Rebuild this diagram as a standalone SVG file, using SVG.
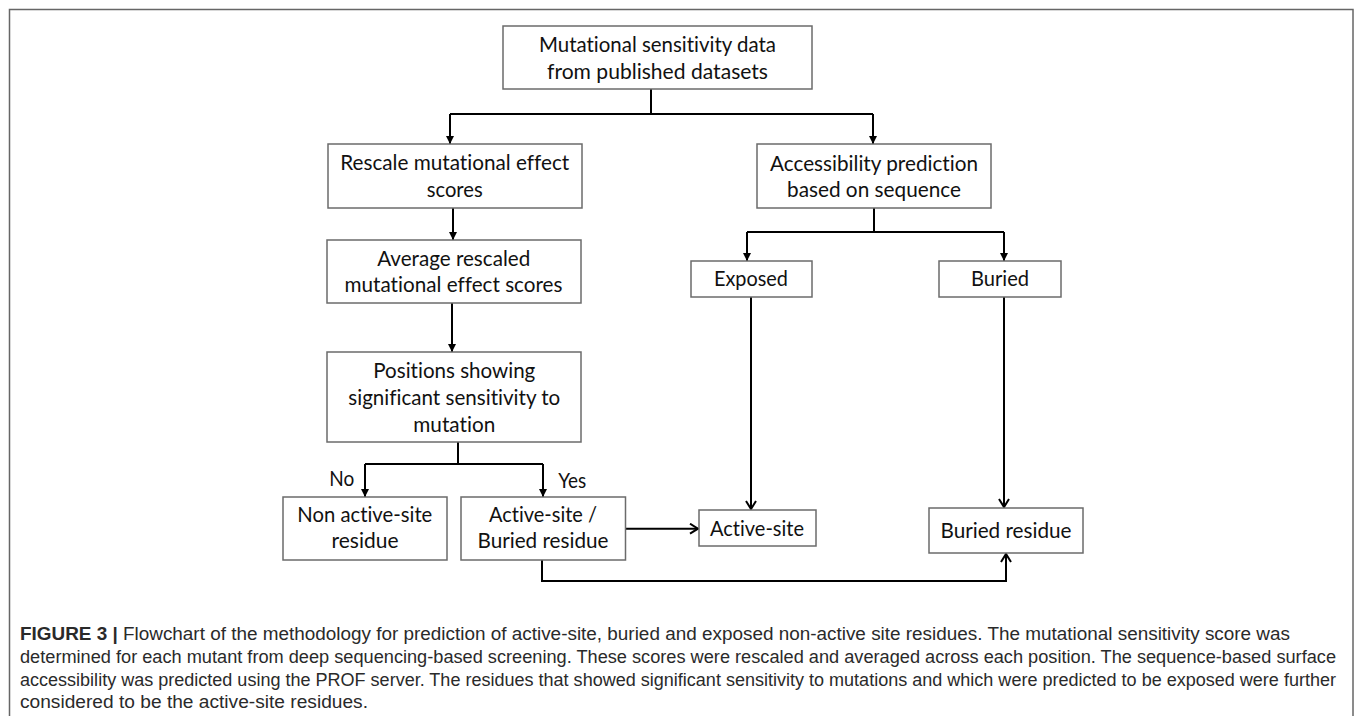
<svg xmlns="http://www.w3.org/2000/svg" width="1355" height="716" viewBox="0 0 1355 716">
<style>
.box{fill:#fff;stroke:#6b6b6b;stroke-width:1.5}
.t{font-family:Lato,"Liberation Sans",sans-serif;font-size:22px;fill:#111;text-anchor:middle;font-variant-ligatures:none}
.l{font-family:Lato,"Liberation Sans",sans-serif;font-size:22px;fill:#111;font-variant-ligatures:none}
.c{fill:none;stroke:#000;stroke-width:2}
.cap{font-family:"Liberation Sans",Arial,sans-serif;font-size:17.5px;fill:#2a2a2a}
</style>
<defs>
<marker id="tri" markerUnits="userSpaceOnUse" markerWidth="9" markerHeight="9" refX="8" refY="4" orient="auto">
<path d="M0,0 L8,4 L0,8 z" fill="#000"/>
</marker>
<marker id="open" markerUnits="userSpaceOnUse" markerWidth="12" markerHeight="14" refX="9" refY="6" orient="auto">
<path d="M1,1 L9,6 L1,11" fill="none" stroke="#000" stroke-width="2"/>
</marker>
</defs>
<rect x="0" y="0" width="1355" height="716" fill="#fff"/>
<rect x="9.5" y="9.5" width="1343.5" height="720" fill="none" stroke="#666" stroke-width="1.5"/>

<g id="connectors">
<path class="c" d="M651,89 V114"/>
<path class="c" d="M450,114 H873"/>
<path class="c" d="M450,114 V144" marker-end="url(#tri)"/>
<path class="c" d="M873,114 V144" marker-end="url(#tri)"/>
<path class="c" d="M453,208 V240" marker-end="url(#tri)"/>
<path class="c" d="M452,303 V352" marker-end="url(#tri)"/>
<path class="c" d="M458,442 V464"/>
<path class="c" d="M365,464 H543"/>
<path class="c" d="M365,464 V497" marker-end="url(#tri)"/>
<path class="c" d="M543,464 V497" marker-end="url(#tri)"/>
<path class="c" d="M874,208 V232"/>
<path class="c" d="M747,232 H1004"/>
<path class="c" d="M747,232 V261" marker-end="url(#tri)"/>
<path class="c" d="M1004,232 V261" marker-end="url(#tri)"/>
<path class="c" d="M751,297 V509" marker-end="url(#open)"/>
<path class="c" d="M1004,297 V507" marker-end="url(#open)"/>
<path class="c" d="M626,528.7 H698" marker-end="url(#open)"/>
<path class="c" d="M542,560 V581 H1006 V554" marker-end="url(#open)"/>
</g>

<g id="n-source">
<rect class="box" x="503" y="26" width="309" height="63"/>
<text class="t" x="657.5" y="52.3" textLength="237" lengthAdjust="spacingAndGlyphs">Mutational sensitivity data</text>
<text class="t" x="657.5" y="79" textLength="221" lengthAdjust="spacingAndGlyphs">from published datasets</text>
</g>
<g id="n-rescale">
<rect class="box" x="328" y="144" width="254" height="64"/>
<text class="t" x="454.7" y="170" textLength="229" lengthAdjust="spacingAndGlyphs">Rescale mutational effect</text>
<text class="t" x="454.7" y="196.7" textLength="56" lengthAdjust="spacingAndGlyphs">scores</text>
</g>
<g id="n-average">
<rect class="box" x="327" y="240" width="254" height="63"/>
<text class="t" x="453.7" y="265.7" textLength="153" lengthAdjust="spacingAndGlyphs">Average rescaled</text>
<text class="t" x="453.5" y="292.3" textLength="218" lengthAdjust="spacingAndGlyphs">mutational effect scores</text>
</g>
<g id="n-positions">
<rect class="box" x="327" y="352" width="254" height="90"/>
<text class="t" x="454.3" y="378.3" textLength="162" lengthAdjust="spacingAndGlyphs">Positions showing</text>
<text class="t" x="454.3" y="405" textLength="212" lengthAdjust="spacingAndGlyphs">significant sensitivity to</text>
<text class="t" x="454.3" y="431.7" textLength="82" lengthAdjust="spacingAndGlyphs">mutation</text>
</g>
<g id="lbl-no"><text class="l" x="329.3" y="485.7" textLength="25" lengthAdjust="spacingAndGlyphs">No</text></g>
<g id="lbl-yes"><text class="l" x="558.3" y="487.7" textLength="28" lengthAdjust="spacingAndGlyphs">Yes</text></g>
<g id="n-nonactive">
<rect class="box" x="283" y="497" width="164" height="63"/>
<text class="t" x="364.8" y="521.7" textLength="135" lengthAdjust="spacingAndGlyphs">Non active-site</text>
<text class="t" x="365" y="548.3" textLength="67" lengthAdjust="spacingAndGlyphs">residue</text>
</g>
<g id="n-activeburied">
<rect class="box" x="461" y="497" width="164.5" height="63"/>
<text class="t" x="543" y="521.7" textLength="108" lengthAdjust="spacingAndGlyphs">Active-site /</text>
<text class="t" x="543" y="548.3" textLength="131" lengthAdjust="spacingAndGlyphs">Buried residue</text>
</g>
<g id="n-access">
<rect class="box" x="757" y="144" width="234" height="64"/>
<text class="t" x="874" y="170.7" textLength="208" lengthAdjust="spacingAndGlyphs">Accessibility prediction</text>
<text class="t" x="874" y="196.7" textLength="174" lengthAdjust="spacingAndGlyphs">based on sequence</text>
</g>
<g id="n-exposed">
<rect class="box" x="691" y="261" width="121" height="36"/>
<text class="t" x="751" y="286" textLength="74" lengthAdjust="spacingAndGlyphs">Exposed</text>
</g>
<g id="n-buried">
<rect class="box" x="939" y="261" width="122" height="36"/>
<text class="t" x="1000" y="286" textLength="58" lengthAdjust="spacingAndGlyphs">Buried</text>
</g>
<g id="n-activesite">
<rect class="box" x="699" y="510" width="117" height="36"/>
<text class="t" x="757" y="535.7" textLength="94" lengthAdjust="spacingAndGlyphs">Active-site</text>
</g>
<g id="n-buriedresidue">
<rect class="box" x="929" y="508" width="154" height="45"/>
<text class="t" x="1006" y="538" textLength="131" lengthAdjust="spacingAndGlyphs">Buried residue</text>
</g>

<g id="caption">
<text class="cap" x="20" y="640" textLength="1270" lengthAdjust="spacingAndGlyphs"><tspan font-weight="bold">FIGURE 3 | </tspan>Flowchart of the methodology for prediction of active-site, buried and exposed non-active site residues. The mutational sensitivity score was</text>
<text class="cap" x="20" y="663" textLength="1316" lengthAdjust="spacingAndGlyphs">determined for each mutant from deep sequencing-based screening. These scores were rescaled and averaged across each position. The sequence-based surface</text>
<text class="cap" x="20" y="686" textLength="1316" lengthAdjust="spacingAndGlyphs">accessibility was predicted using the PROF server. The residues that showed significant sensitivity to mutations and which were predicted to be exposed were further</text>
<text class="cap" x="20" y="708" textLength="348" lengthAdjust="spacingAndGlyphs">considered to be the active-site residues.</text>
</g>
</svg>
